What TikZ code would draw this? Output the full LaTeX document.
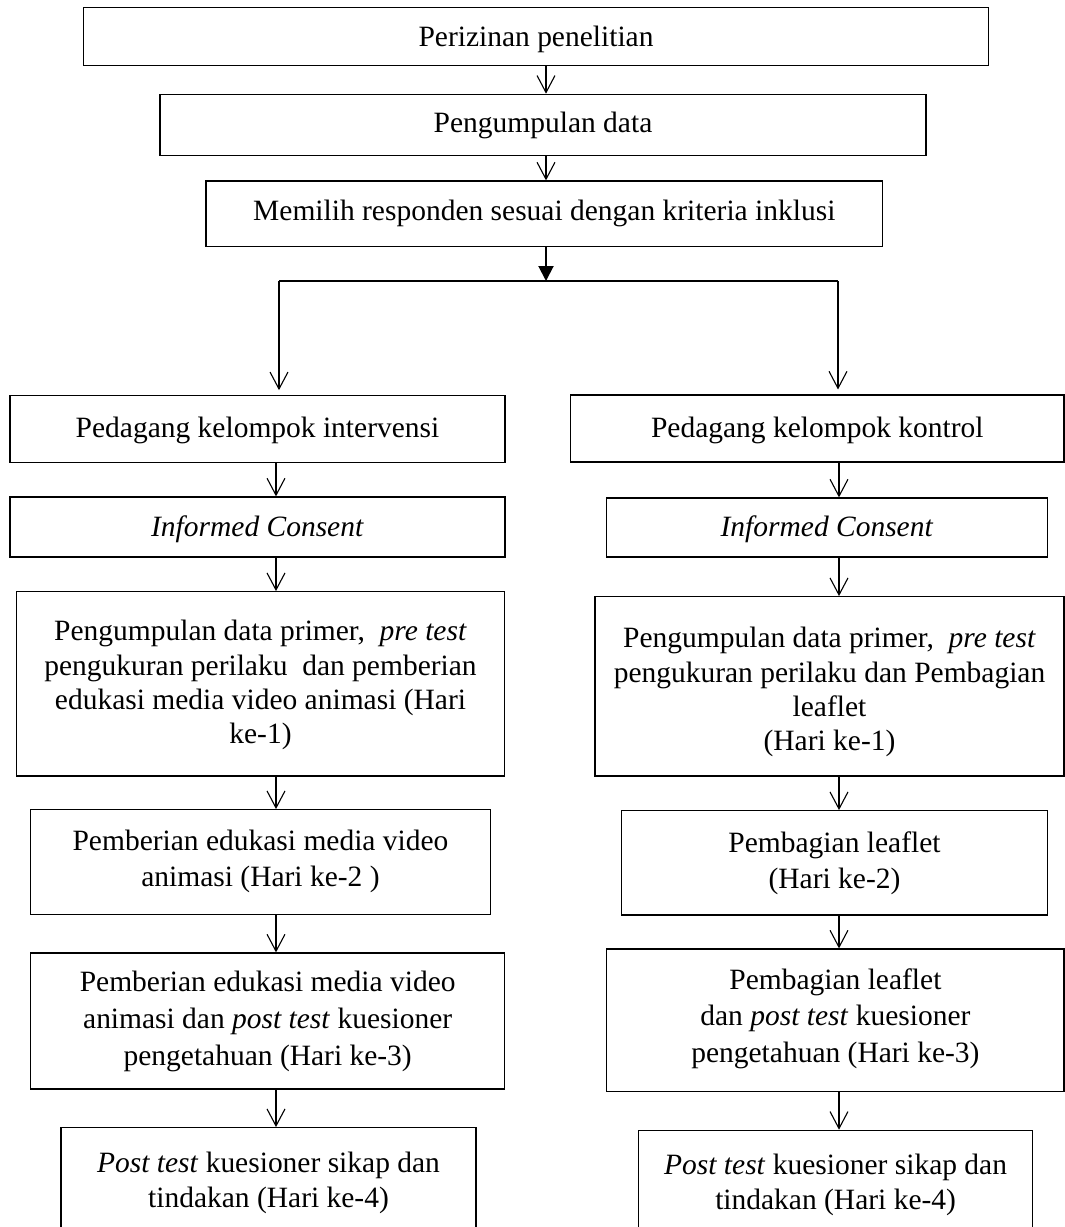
\documentclass[tikz,border=0pt]{standalone}
\usepackage{fontspec}
\setmainfont{Liberation Serif}
\usetikzlibrary{arrows.meta,fit}
\begin{document}
\begin{tikzpicture}[x=0.407pt,y=-0.407pt,
  box/.style={draw,line width=0.5pt,inner sep=0pt},
  txt/.style={align=center,inner sep=0pt,anchor=north,font=\fontsize{12}{14.6}\selectfont},
  arr/.style={line width=0.45pt,-{Straight Barb[length=6.9pt,width=7.3pt,line width=0.45pt]}},
  farr/.style={line width=0.8pt,-{Triangle[length=6.1pt,width=6.1pt]}},
  split/.style={line width=0.8pt}]
\useasboundingbox (0,0) rectangle (1065,1227);
\clip (0,0) rectangle (1065,1227);
% top boxes
\node[box,fit={(83.7,7.3)(988.3,65.3)}] (T1) {};
\node[box,fit={(160,94.3)(926,155.7)}] (T2) {};
\node[box,fit={(206,181)(882.7,246.7)}] (T3) {};
\node[txt] (T1t) at (536,25.5) {Perizinan penelitian};
\node[txt] (T2t) at (543,112) {Pengumpulan data};
\node[txt] (T3t) at (544.3,200) {Memilih responden sesuai dengan kriteria inklusi};
% left column boxes
\node[box,fit={(10,395.7)(505,462.7)}] (L1) {};
\node[box,fit={(10,497)(505,557)}] (L2) {};
\node[box,fit={(16.3,591.7)(504.8,776)}] (L3) {};
\node[box,fit={(30.6,809.7)(490.5,914.3)}] (L4) {};
\node[box,fit={(30.6,953)(504.8,1089)}] (L5) {};
\node[box,fit={(61,1127.7)(476,1240)}] (L6) {};
% right column boxes
\node[box,fit={(570.6,395)(1064,462)}] (R1) {};
\node[box,fit={(606.6,498)(1047.5,557)}] (R2) {};
\node[box,fit={(595,596.7)(1064,776)}] (R3) {};
\node[box,fit={(621.6,810.7)(1047.5,915)}] (R4) {};
\node[box,fit={(606.7,949)(1064,1091.7)}] (R5) {};
\node[box,fit={(638.6,1130.3)(1032.6,1240)}] (R6) {};
% texts left
\node[txt] (L1t) at (257.5,417) {Pedagang kelompok intervensi};
\node[txt] (L2t) at (257.5,515) {\textit{Informed Consent}};
\node[txt,font=\fontsize{12}{13.9}\selectfont] (L3t) at (260.5,620) {Pengumpulan data primer,\ \ \textit{pre test}\\pengukuran perilaku\ \ dan pemberian\\edukasi media video animasi (Hari\\ke-1)};
\node[txt] (L4t) at (260.5,830) {Pemberian edukasi media video\\animasi (Hari ke-2 )};
\node[txt,font=\fontsize{12}{14.9}\selectfont] (L5t) at (267.7,971) {Pemberian edukasi media video\\animasi dan \textit{post test} kuesioner\\pengetahuan (Hari ke-3)};
\node[txt,font=\fontsize{12}{14.3}\selectfont] (L6t) at (268.5,1151.7) {\textit{Post test} kuesioner sikap dan\\tindakan (Hari ke-4)};
% texts right
\node[txt] (R1t) at (817.3,416.5) {Pedagang kelompok kontrol};
\node[txt] (R2t) at (827,515.5) {\textit{Informed Consent}};
\node[txt,font=\fontsize{12}{13.9}\selectfont] (R3t) at (829.5,627) {Pengumpulan data primer,\ \ \textit{pre test}\\pengukuran perilaku dan Pembagian\\leaflet\\(Hari ke-1)};
\node[txt] (R4t) at (834.5,831) {Pembagian leaflet\\(Hari ke-2)};
\node[txt,font=\fontsize{12}{14.9}\selectfont] (R5t) at (835.4,968) {Pembagian leaflet\\dan \textit{post test} kuesioner\\pengetahuan (Hari ke-3)};
\node[txt,font=\fontsize{12}{14.3}\selectfont] (R6t) at (835.6,1153.3) {\textit{Post test} kuesioner sikap dan\\tindakan (Hari ke-4)};
% connectors
\coordinate (cm) at (546,0);
\coordinate (cl) at (276,0);
\coordinate (cr) at (839,0);
\coordinate (jn) at (546,281);
\coordinate (jl) at (279,281);
\coordinate (jr) at (838,281);
\draw[arr] (T1.south -| cm) -- (T2.north -| cm);
\draw[arr] (T2.south -| cm) -- (T3.north -| cm);
\draw[farr] (T3.south -| jn) -- (jn);
\draw[split] (jl) -- (jr);
\draw[arr,shorten >=2pt] (jl) -- (L1.north -| jl);
\draw[arr,shorten >=2pt] (jr) -- (R1.north -| jr);
\draw[arr] (L1.south -| cl) -- (L2.north -| cl);
\draw[arr] (L2.south -| cl) -- (L3.north -| cl);
\draw[arr] (L3.south -| cl) -- (L4.north -| cl);
\draw[arr] (L4.south -| cl) -- (L5.north -| cl);
\draw[arr] (L5.south -| cl) -- (L6.north -| cl);
\draw[arr] (R1.south -| cr) -- (R2.north -| cr);
\draw[arr] (R2.south -| cr) -- (R3.north -| cr);
\draw[arr] (R3.south -| cr) -- (R4.north -| cr);
\draw[arr] (R4.south -| cr) -- (R5.north -| cr);
\draw[arr] (R5.south -| cr) -- (R6.north -| cr);
\end{tikzpicture}
\end{document}
